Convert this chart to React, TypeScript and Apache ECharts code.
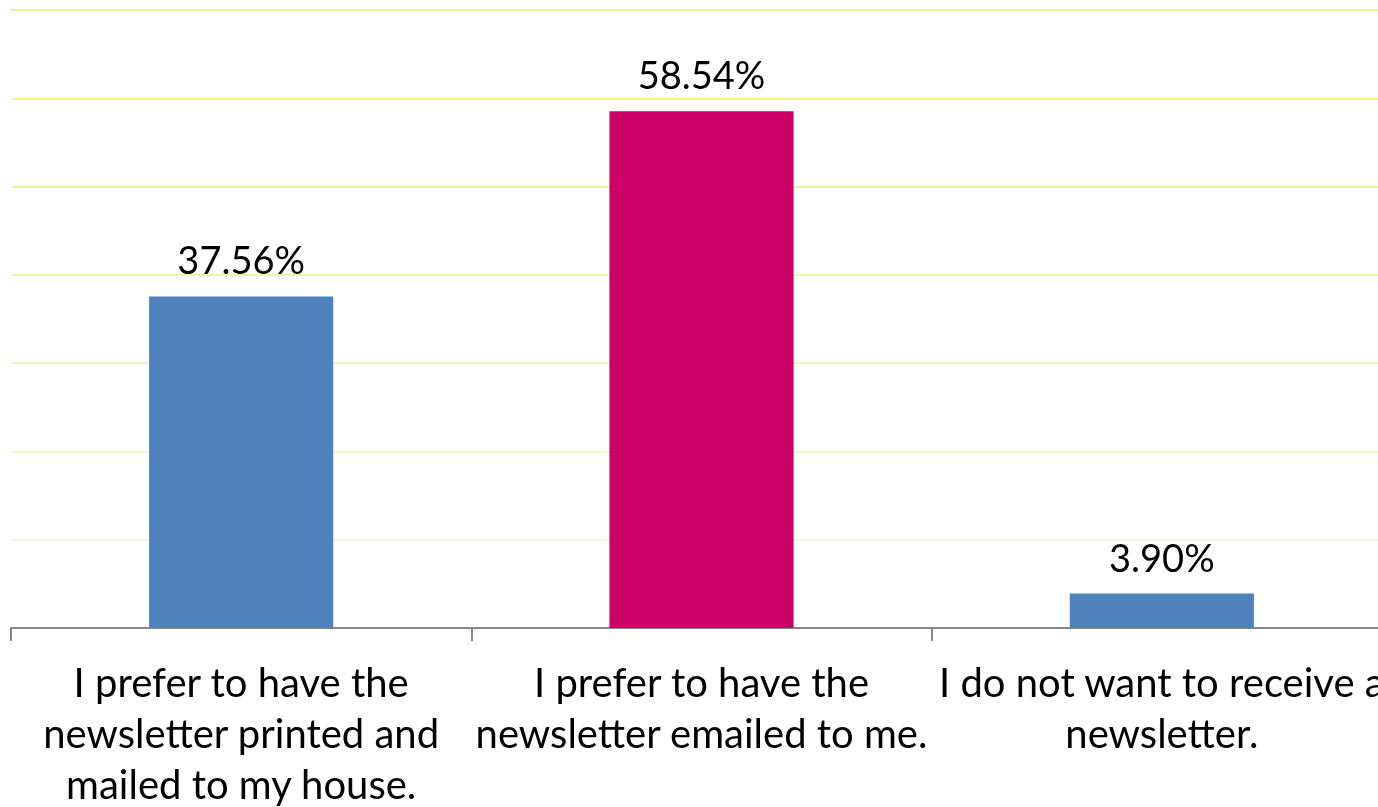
import React, { useEffect, useRef } from "react";
import * as echarts from "echarts";

const categories = [
  "I prefer to have the newsletter printed and mailed to my house.",
  "I prefer to have the newsletter emailed to me.",
  "I do not want to receive a newsletter.",
];
const tickLabels = [
  "I prefer to have the\nnewsletter printed and\nmailed to my house.",
  "I prefer to have the\nnewsletter emailed to me.",
  "I do not want to receive a\nnewsletter.",
];
const values = [37.56, 58.54, 3.9];

const BAR_COLORS = ["#4f81bd", "#cc0066", "#4f81bd"];
const GRID_COLORS = [
  "#fbf9e4",
  "#faf7d8",
  "#f9f5cc",
  "#f8f3bd",
  "#f6f2ac",
  "#f4f19a",
  "#f2f08c",
  "#f2f08a",
];

export default function App() {
  const ref = useRef<HTMLDivElement>(null);
  useEffect(() => {
    if (!ref.current) return;
    const chart = echarts.init(ref.current, null, { renderer: "svg" });
    chart.setOption({
      animation: false,
      textStyle: { fontFamily: "Lato" },
      grid: {
        left: 11,
        top: 10,
        width: 1381,
        height: 618,
        outerBoundsMode: "none",
        containLabel: false,
      },
      xAxis: {
        type: "category",
        data: categories,
        axisLine: { show: true, lineStyle: { color: "#888888", width: 2 } },
        axisTick: { show: true, length: 13, lineStyle: { color: "#888888", width: 2 } },
        axisLabel: {
          interval: 0,
          margin: 28,
          fontSize: 40,
          lineHeight: 51,
          color: "#000000",
          fontFamily: "Lato",
          formatter: (_v: string, i: number) => tickLabels[i],
        },
        splitLine: { show: false },
      },
      yAxis: {
        type: "value",
        min: 0,
        max: 70,
        interval: 10,
        axisLine: { show: false },
        axisTick: { show: false },
        axisLabel: { show: false },
        splitLine: { show: true, lineStyle: { color: GRID_COLORS, width: 2 } },
      },
      series: [
        {
          type: "bar",
          data: values,
          barWidth: "40%",
          itemStyle: {
            color: (p: any) => BAR_COLORS[p.dataIndex],
          },
          label: {
            show: true,
            position: "top",
            distance: 18,
            fontSize: 38,
            color: "#000000",
            fontFamily: "Lato",
            formatter: (p: any) => Number(p.value).toFixed(2) + "%",
          },
        },
      ],
    });
    return () => chart.dispose();
  }, []);
  return (
    <div
      ref={ref}
      style={{ position: "fixed", left: 0, top: 0, width: 1378, height: 807 }}
    />
  );
}
